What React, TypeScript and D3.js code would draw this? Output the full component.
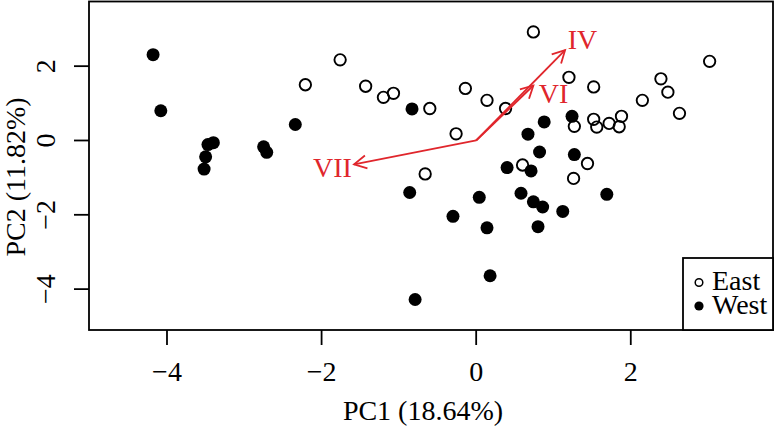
import React from "react";
import * as d3 from "d3";

const eastX = [-2.21, -1.76, -1.43, -1.2, -1.07, -0.6, -0.26, -0.14, 0.14, 0.38, 0.74, -0.66, 0.6, 1.2, 1.52, 3.02, 2.39, 2.48, 2.15, 2.63, 1.27, 1.52, 1.56, 1.72, 1.88, 1.85, 1.44, 1.26];
const eastY = [1.5, 2.17, 1.46, 1.16, 1.27, 0.86, 0.18, 1.4, 1.08, 0.86, 2.92, -0.9, -0.66, 1.7, 1.44, 2.13, 1.66, 1.3, 1.08, 0.73, 0.38, 0.57, 0.36, 0.46, 0.65, 0.37, -0.62, -1.02];
const westX = [-4.18, -4.08, -2.34, -3.4, -3.47, -3.5, -3.52, -2.75, -2.71, -0.83, 0.67, 0.88, 0.82, 0.4, 0.71, 1.24, 1.27, 1.69, 0.74, 0.86, 1.12, 0.8, -0.86, 0.04, 0.58, -0.3, 0.14, 0.18, -0.79];
const westY = [2.31, 0.8, 0.43, -0.06, -0.11, -0.44, -0.77, -0.17, -0.32, 0.85, 0.17, 0.5, -0.31, -0.73, -0.82, 0.65, -0.38, -1.45, -1.65, -1.79, -1.91, -2.32, -1.4, -1.53, -1.42, -2.04, -2.35, -3.64, -4.28];

const loadingNames = ["IV", "VI", "VII"];
const loadingX = [1.15, 0.74, -1.58];
const loadingY = [2.43, 1.48, -0.64];
const labelX = [1.375, 1.0, -1.86];
const labelY = [2.72, 1.27, -0.72];

const xTicks = [-4, -2, 0, 2];
const yTicks = [-4, -2, 0, 2];
const xTitle = "PC1 (18.64%)";
const yTitle = "PC2 (11.82%)";
const legendLabels = ["East", "West"];

const FONT = "'Liberation Serif', 'Times New Roman', serif";
const RED = "#e0262c";

export default function App() {
  const left = 89, right = 773, top = 1.5, bottom = 330;
  const x = d3.scaleLinear().domain([-5.009, 3.84]).range([left, right]);
  const y = d3.scaleLinear().domain([-5.1, 3.74]).range([bottom, top]);
  const fs = 28;
  const ox = x(0), oy = y(0);

  const arrowHead = (x1: number, y1: number, x2: number, y2: number) => {
    const ang = Math.atan2(y2 - y1, x2 - x1);
    const L = 14, a = (28 * Math.PI) / 180;
    const p1 = [x2 - L * Math.cos(ang - a), y2 - L * Math.sin(ang - a)];
    const p2 = [x2 - L * Math.cos(ang + a), y2 - L * Math.sin(ang + a)];
    return `M${p1[0]},${p1[1]}L${x2},${y2}L${p2[0]},${p2[1]}`;
  };

  return (
    <svg width={775} height={426} style={{ position: "absolute", left: 0, top: 0, background: "#fff" }} fontFamily={FONT}>
      <rect x={0} y={0} width={775} height={426} fill="#fff" />
      {eastX.map((v, i) => (
        <circle key={"e" + i} cx={x(v)} cy={y(eastY[i])} r={5.7} fill="none" stroke="#000" strokeWidth={1.9} />
      ))}
      {westX.map((v, i) => (
        <circle key={"w" + i} cx={x(v)} cy={y(westY[i])} r={6.5} fill="#000" />
      ))}
      {loadingNames.map((n, i) => {
        const tx = x(loadingX[i]), ty = y(loadingY[i]);
        return (
          <g key={n}>
            <line x1={ox} y1={oy} x2={tx} y2={ty} stroke={RED} strokeWidth={1.8} />
            <path d={arrowHead(ox, oy, tx, ty)} fill="none" stroke={RED} strokeWidth={1.8} />
            <text x={x(labelX[i])} y={y(labelY[i])} dy="0.34em" textAnchor="middle" fontSize={fs} fill={RED}>{n}</text>
          </g>
        );
      })}
      <rect x={left} y={top} width={right - left} height={bottom - top} fill="none" stroke="#000" strokeWidth={1.8} />
      {xTicks.map((t) => (
        <g key={"xt" + t}>
          <line x1={x(t)} x2={x(t)} y1={bottom} y2={bottom + 15} stroke="#000" strokeWidth={1.8} />
          <text x={x(t)} y={381} textAnchor="middle" fontSize={fs}>{t < 0 ? "\u2212" + Math.abs(t) : String(t)}</text>
        </g>
      ))}
      <text x={423} y={420} textAnchor="middle" fontSize={fs}>{xTitle}</text>
      {yTicks.map((t) => (
        <g key={"yt" + t}>
          <line x1={left - 15} x2={left} y1={y(t)} y2={y(t)} stroke="#000" strokeWidth={1.8} />
          <text transform={`translate(55,${y(t)}) rotate(-90)`} textAnchor="middle" fontSize={fs}>{t < 0 ? "\u2212" + Math.abs(t) : String(t)}</text>
        </g>
      ))}
      <text transform={`translate(25,177) rotate(-90)`} textAnchor="middle" fontSize={fs}>{yTitle}</text>
      <rect x={683} y={258} width={right - 683} height={bottom - 258} fill="#fff" stroke="#000" strokeWidth={1.8} />
      <circle cx={699} cy={282.5} r={3.8} fill="none" stroke="#000" strokeWidth={1.5} />
      <circle cx={699} cy={306} r={4.6} fill="#000" />
      <text fontSize={fs}>
        <tspan x={712} y={290}>{legendLabels[0]}</tspan>
        <tspan x={712} y={314}>{legendLabels[1]}</tspan>
      </text>
    </svg>
  );
}
